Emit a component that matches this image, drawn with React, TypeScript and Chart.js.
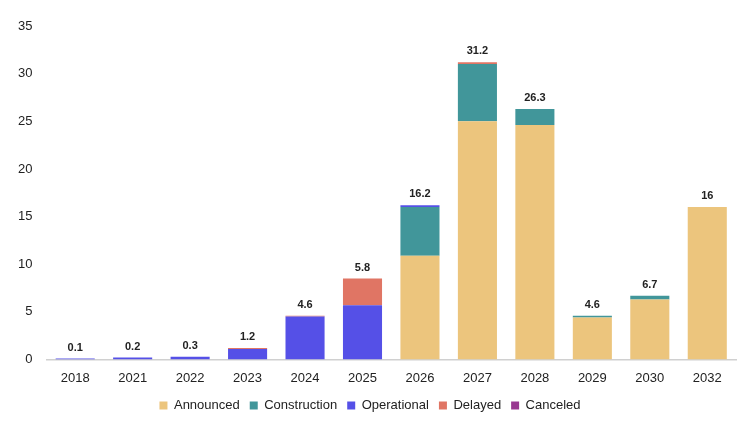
import React, { useEffect, useRef } from "react";
import { Chart, registerables } from "chart.js";

Chart.register(...registerables);

const categories = ["2018", "2021", "2022", "2023", "2024", "2025", "2026", "2027", "2028", "2029", "2030", "2032"];
const announced = [0, 0, 0, 0, 0, 0, 10.9, 25.0, 24.6, 4.4, 6.3, 16.0];
const construction = [0, 0, 0, 0, 0, 0, 5.1, 6.0, 1.7, 0.2, 0.4, 0];
const operational = [0.1, 0.2, 0.3, 1.1, 4.5, 5.7, 0.2, 0, 0, 0, 0, 0];
const delayed = [0, 0, 0, 0.1, 0.1, 2.8, 0, 0.2, 0, 0, 0, 0];
const canceled = [0, 0, 0, 0, 0, 0, 0, 0, 0, 0, 0, 0];
const totalLabels = ["0.1", "0.2", "0.3", "1.2", "4.6", "5.8", "16.2", "31.2", "26.3", "4.6", "6.7", "16"];
const yTicks = [0, 5, 10, 15, 20, 25, 30, 35];

const FONT = "'Liberation Sans', Arial, Helvetica, sans-serif";

const totalsPlugin = {
  id: "totals",
  afterDatasetsDraw(chart: any) {
    const { ctx, scales } = chart;
    const x = scales.x;
    const y = scales.y;
    ctx.save();
    ctx.font = `bold 11px ${FONT}`;
    ctx.fillStyle = "#222";
    ctx.textAlign = "center";
    ctx.textBaseline = "middle";
    categories.forEach((_, i) => {
      const top = announced[i] + construction[i] + operational[i] + delayed[i] + canceled[i];
      const px = x.getPixelForValue(i);
      const py = y.getPixelForValue(top) - 11;
      ctx.fillText(totalLabels[i], px, py);
    });
    ctx.restore();
  },
};

export default function App() {
  const ref = useRef<HTMLCanvasElement | null>(null);
  useEffect(() => {
    if (!ref.current) return;
    const mk = (label: string, data: number[], color: string) => ({
      label,
      data,
      backgroundColor: color,
      borderWidth: 0,
      stack: "s",
      barPercentage: 0.68,
      categoryPercentage: 1,
    });
    const chart = new Chart(ref.current, {
      type: "bar",
      data: {
        labels: categories,
        datasets: [
          mk("Announced", announced, "#ECC57D"),
          mk("Construction", construction, "#41969A"),
          mk("Operational", operational, "#5550E7"),
          mk("Delayed", delayed, "#E07564"),
          mk("Canceled", canceled, "#993891"),
        ],
      },
      options: {
        animation: false,
        responsive: true,
        maintainAspectRatio: false,
        layout: { padding: { left: 4, right: 14, top: 26, bottom: 0 } },
        scales: {
          x: {
            stacked: true,
            afterFit: (axis: any) => {
              axis.height = 29.5;
            },
            grid: { display: false, drawTicks: false },
            border: { display: true, color: "#d0d0d0", width: 1.5 },
            ticks: { color: "#222", font: { family: FONT, size: 13 }, padding: 11 },
          },
          y: {
            stacked: true,
            min: 0,
            max: 35,
            afterBuildTicks: (axis: any) => {
              axis.ticks = yTicks.map((v) => ({ value: v }));
            },
            grid: { display: false, drawTicks: false },
            border: { display: false },
            ticks: { color: "#222", font: { family: FONT, size: 13 }, padding: 14 },
          },
        },
        plugins: {
          legend: {
            position: "bottom",
            labels: {
              boxWidth: 8,
              boxHeight: 8,
              color: "#222",
              font: { family: FONT, size: 13 },
              padding: 10,
            },
          },
          tooltip: { enabled: false },
        },
      },
      plugins: [totalsPlugin],
    });
    return () => chart.destroy();
  }, []);
  return (
    <div style={{ position: "fixed", left: 0, top: 0, width: 750, height: 422, background: "#fff" }}>
      <canvas ref={ref} />
    </div>
  );
}
